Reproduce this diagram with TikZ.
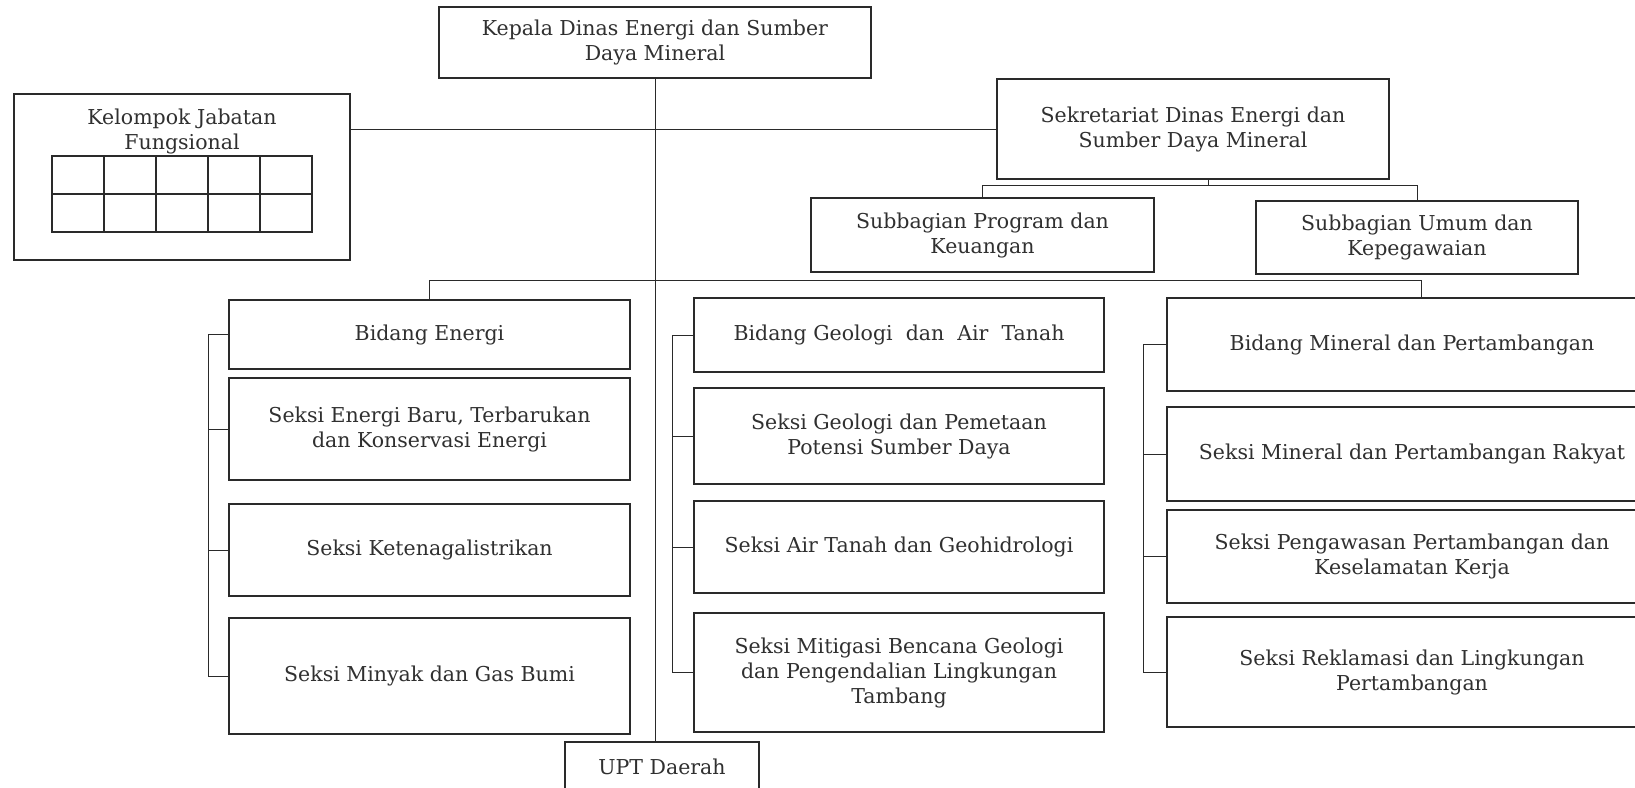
\documentclass[tikz,border=0pt]{standalone}
\usepackage{fontspec}
\setmainfont{DejaVu Serif}
\definecolor{ink}{HTML}{2A2A2A}
\definecolor{txt}{HTML}{303030}
\newcommand\orgfont{\fontsize{20.5}{25}\selectfont}
\begin{document}
\begin{tikzpicture}[x=1pt,y=-1pt,
  unit/.style={draw=ink,line width=1.5pt,align=center,inner sep=0pt,text=txt,font=\orgfont},
  label/.style={align=center,inner sep=0pt,text=txt,font=\orgfont},
  link/.style={draw=ink,line width=1pt},
  cell/.style={draw=ink,line width=1.2pt}]
\useasboundingbox (0,0) rectangle (1635,787);
\clip (0,0) rectangle (1635,787);
\fill[white] (0,0) rectangle (1635,787);

% top level
\node[unit,minimum width=432pt,minimum height=71pt] (kepala) at (655,42.5)
  {Kepala Dinas Energi dan Sumber\\Daya Mineral};

% functional group with its table
\node[unit,minimum width=336pt,minimum height=166pt] (kel) at (182,177) {};
\node[label] (keltxt) at (182,131) {Kelompok Jabatan\\Fungsional};
\foreach \c in {0,...,4}
  \foreach \r in {0,1}
    \draw[cell] ({52+52*\c},{156+38*\r}) rectangle ++(52,38);

% secretariat and its subdivisions
\node[unit,minimum width=392pt,minimum height=100pt] (sek) at (1193,129)
  {Sekretariat Dinas Energi dan\\Sumber Daya Mineral};
\node[unit,minimum width=343pt,minimum height=74pt] (prog) at (982.5,235)
  {Subbagian Program dan\\Keuangan};
\node[unit,minimum width=322pt,minimum height=73pt] (umum) at (1417,237.5)
  {Subbagian Umum dan\\Kepegawaian};

% Bidang Energi column
\begin{scope}[every node/.style={unit,minimum width=401pt}]
\node[minimum height=69pt]  (e1) at (429.5,334.5) {Bidang Energi};
\node[minimum height=102pt] (e2) at (429.5,429)   {Seksi Energi Baru, Terbarukan\\dan Konservasi Energi};
\node[minimum height=92pt]  (e3) at (429.5,550)   {Seksi Ketenagalistrikan};
\node[minimum height=116pt] (e4) at (429.5,676)   {Seksi Minyak dan Gas Bumi};
\end{scope}

% Bidang Geologi column
\begin{scope}[every node/.style={unit,minimum width=410pt}]
\node[minimum height=74pt]  (g1) at (899,335)   {Bidang Geologi\ \ dan\ \ Air\ \ Tanah};
\node[minimum height=96pt]  (g2) at (899,436)   {Seksi Geologi dan Pemetaan\\Potensi Sumber Daya};
\node[minimum height=92pt]  (g3) at (899,547)   {Seksi Air Tanah dan Geohidrologi};
\node[minimum height=119pt] (g4) at (899,672.5) {Seksi Mitigasi Bencana Geologi\\dan Pengendalian Lingkungan\\Tambang};
\end{scope}

% Bidang Mineral column
\begin{scope}[every node/.style={unit,minimum width=490pt}]
\node[minimum height=93pt]  (m1) at (1412,344.5) {Bidang Mineral dan Pertambangan};
\node[minimum height=94pt]  (m2) at (1412,454)   {Seksi Mineral dan Pertambangan Rakyat};
\node[minimum height=93pt]  (m3) at (1412,556.5) {Seksi Pengawasan Pertambangan dan\\Keselamatan Kerja};
\node[minimum height=110pt] (m4) at (1412,672)   {Seksi Reklamasi dan Lingkungan\\Pertambangan};
\end{scope}

% regional unit
\node[unit,minimum width=194pt,minimum height=50pt] (upt) at (662,767) {UPT Daerah};

% main trunk and staff line
\draw[link] (kepala.south) -- (kepala.south |- upt.north);
\draw[link] (kel.east |- sek.west) -- (sek.west);

% secretariat bus
\coordinate (sekbus) at (1208,185);
\draw[link] (sek.south -| sekbus) -- (sekbus);
\draw[link] (prog.north) -- (prog.north |- sekbus) -- (umum.north |- sekbus) -- (umum.north);

% department bus
\coordinate (mdrop) at (1421,280);
\draw[link] (e1.north) -- (e1.north |- mdrop) -- (mdrop) -- (mdrop |- m1.north);

% section brackets
\coordinate (s1) at (208,0);
\coordinate (s2) at (672,0);
\coordinate (s3) at (1143,0);
\foreach \b/\s in {e/s1,g/s2,m/s3}{
  \draw[link] (\b1.west) -- (\b1.west -| \s) -- (\b4.west -| \s) -- (\b4.west);
  \draw[link] (\b2.west) -- (\b2.west -| \s);
  \draw[link] (\b3.west) -- (\b3.west -| \s);
}
\end{tikzpicture}
\end{document}
